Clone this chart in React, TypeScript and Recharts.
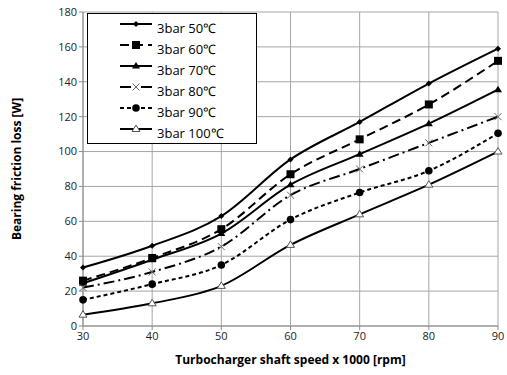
import React from "react";
import { LineChart, Line, XAxis, YAxis, CartesianGrid } from "recharts";

const speeds = [30, 40, 50, 60, 70, 80, 90];
const s50 = [33.5, 46, 63, 95.5, 117, 139, 159];
const s60 = [26, 39, 55.5, 87, 107, 127, 152];
const s70 = [24.5, 38, 53, 81, 98.5, 116, 135.5];
const s80 = [22, 31, 45.5, 75, 90, 105, 120];
const s90 = [15, 24, 35, 61, 76.5, 89, 110.5];
const s100 = [6.5, 13, 23, 46.5, 64, 81, 100];
const seriesNames = ["3bar 50℃", "3bar 60℃", "3bar 70℃", "3bar 80℃", "3bar 90℃", "3bar 100℃"];
const yTicks = [0, 20, 40, 60, 80, 100, 120, 140, 160, 180];
const xTicks = [30, 40, 50, 60, 70, 80, 90];

const data = speeds.map((s, i) => ({
  x: s,
  a: s50[i],
  b: s60[i],
  c: s70[i],
  d: s80[i],
  e: s90[i],
  f: s100[i],
}));

type Shape = "diamond" | "square" | "triangle" | "cross" | "circle" | "opentri";

const drawMarker = (shape: Shape, cx: number, cy: number, key?: any) => {
  switch (shape) {
    case "diamond":
      return <path key={key} d={`M${cx},${cy - 3}L${cx + 3},${cy}L${cx},${cy + 3}L${cx - 3},${cy}Z`} fill="#000" />;
    case "square":
      return <rect key={key} x={cx - 4} y={cy - 4} width={8} height={8} fill="#000" />;
    case "triangle":
      return <path key={key} d={`M${cx},${cy - 4}L${cx + 4},${cy + 2.5}L${cx - 4},${cy + 2.5}Z`} fill="#000" />;
    case "cross":
      return (
        <path key={key} d={`M${cx - 3.5},${cy - 3.5}L${cx + 3.5},${cy + 3.5}M${cx - 3.5},${cy + 3.5}L${cx + 3.5},${cy - 3.5}`} stroke="#666" strokeWidth={1} fill="none" />
      );
    case "circle":
      return <circle key={key} cx={cx} cy={cy} r={3.8} fill="#000" />;
    case "opentri":
      return <path key={key} d={`M${cx},${cy - 4}L${cx + 4},${cy + 2.5}L${cx - 4},${cy + 2.5}Z`} fill="#fff" stroke="#555" strokeWidth={1} />;
  }
  return null;
};

const dotFor = (shape: Shape) => (props: any) => {
  const { cx, cy, index } = props;
  if (cx == null || cy == null) return <g key={index} />;
  return <g key={index}>{drawMarker(shape, cx, cy)}</g>;
};

const seriesDefs: { key: string; shape: Shape; dash?: string }[] = [
  { key: "a", shape: "diamond" },
  { key: "b", shape: "square", dash: "9 5" },
  { key: "c", shape: "triangle" },
  { key: "d", shape: "cross", dash: "11 4 2 4" },
  { key: "e", shape: "circle", dash: "4 3" },
  { key: "f", shape: "opentri" },
];

const LegendBox = () => (
  <svg width={170} height={131} style={{ display: "block" }}>
    <rect x={0.5} y={0.5} width={169} height={130} fill="#fff" stroke="#000" strokeWidth={1} />
    {seriesDefs.map((s, i) => {
      const y = 11 + i * 21;
      return (
        <g key={s.key}>
          <line x1={33} y1={y} x2={65} y2={y} stroke="#000" strokeWidth={2} strokeDasharray={s.dash} />
          {drawMarker(s.shape, 49, y)}
          <text x={70} y={y + 9} fontSize={13} fontFamily="'Open Sans', sans-serif" fill="#000">
            {seriesNames[i]}
          </text>
        </g>
      );
    })}
  </svg>
);

export default function App() {
  return (
    <div style={{ position: "fixed", left: 0, top: 0, width: 507, height: 375, background: "#fff" }}>
      <LineChart width={507} height={375} data={data} margin={{ top: 12, right: 9, bottom: 0, left: 0 }}>
        <CartesianGrid stroke="#a6a6a6" strokeWidth={1} />
        <XAxis
          dataKey="x"
          type="number"
          domain={[30, 90]}
          ticks={xTicks}
          height={49}
          tickSize={4}
          stroke="#8c8c8c"
          tick={{ fill: "#222", fontSize: 11, fontFamily: "'Open Sans', sans-serif" }}
          label={{
            value: "Turbocharger shaft speed x 1000 [rpm]",
            position: "insideBottom",
            offset: 11,
            fill: "#000",
            fontSize: 12,
            fontWeight: "bold",
            fontFamily: "'Open Sans', sans-serif",
          }}
        />
        <YAxis
          type="number"
          domain={[0, 180]}
          ticks={yTicks}
          width={83}
          tickSize={4}
          stroke="#8c8c8c"
          tick={{ fill: "#222", fontSize: 11, fontFamily: "'Open Sans', sans-serif" }}
          label={{
            value: "Bearing friction loss [W]",
            angle: -90,
            position: "insideLeft",
            offset: 17,
            style: { textAnchor: "middle" },
            fill: "#000",
            fontSize: 12,
            fontWeight: "bold",
            fontFamily: "'Open Sans', sans-serif",
          }}
        />
        {seriesDefs.map((s, i) => (
          <Line
            key={s.key}
            dataKey={s.key}
            name={seriesNames[i]}
            type="monotone"
            stroke="#000"
            strokeWidth={2}
            strokeDasharray={s.dash}
            dot={dotFor(s.shape)}
            activeDot={false}
            isAnimationActive={false}
          />
        ))}
      </LineChart>
      <div style={{ position: "absolute", left: 87, top: 13 }}>
        <LegendBox />
      </div>
    </div>
  );
}
